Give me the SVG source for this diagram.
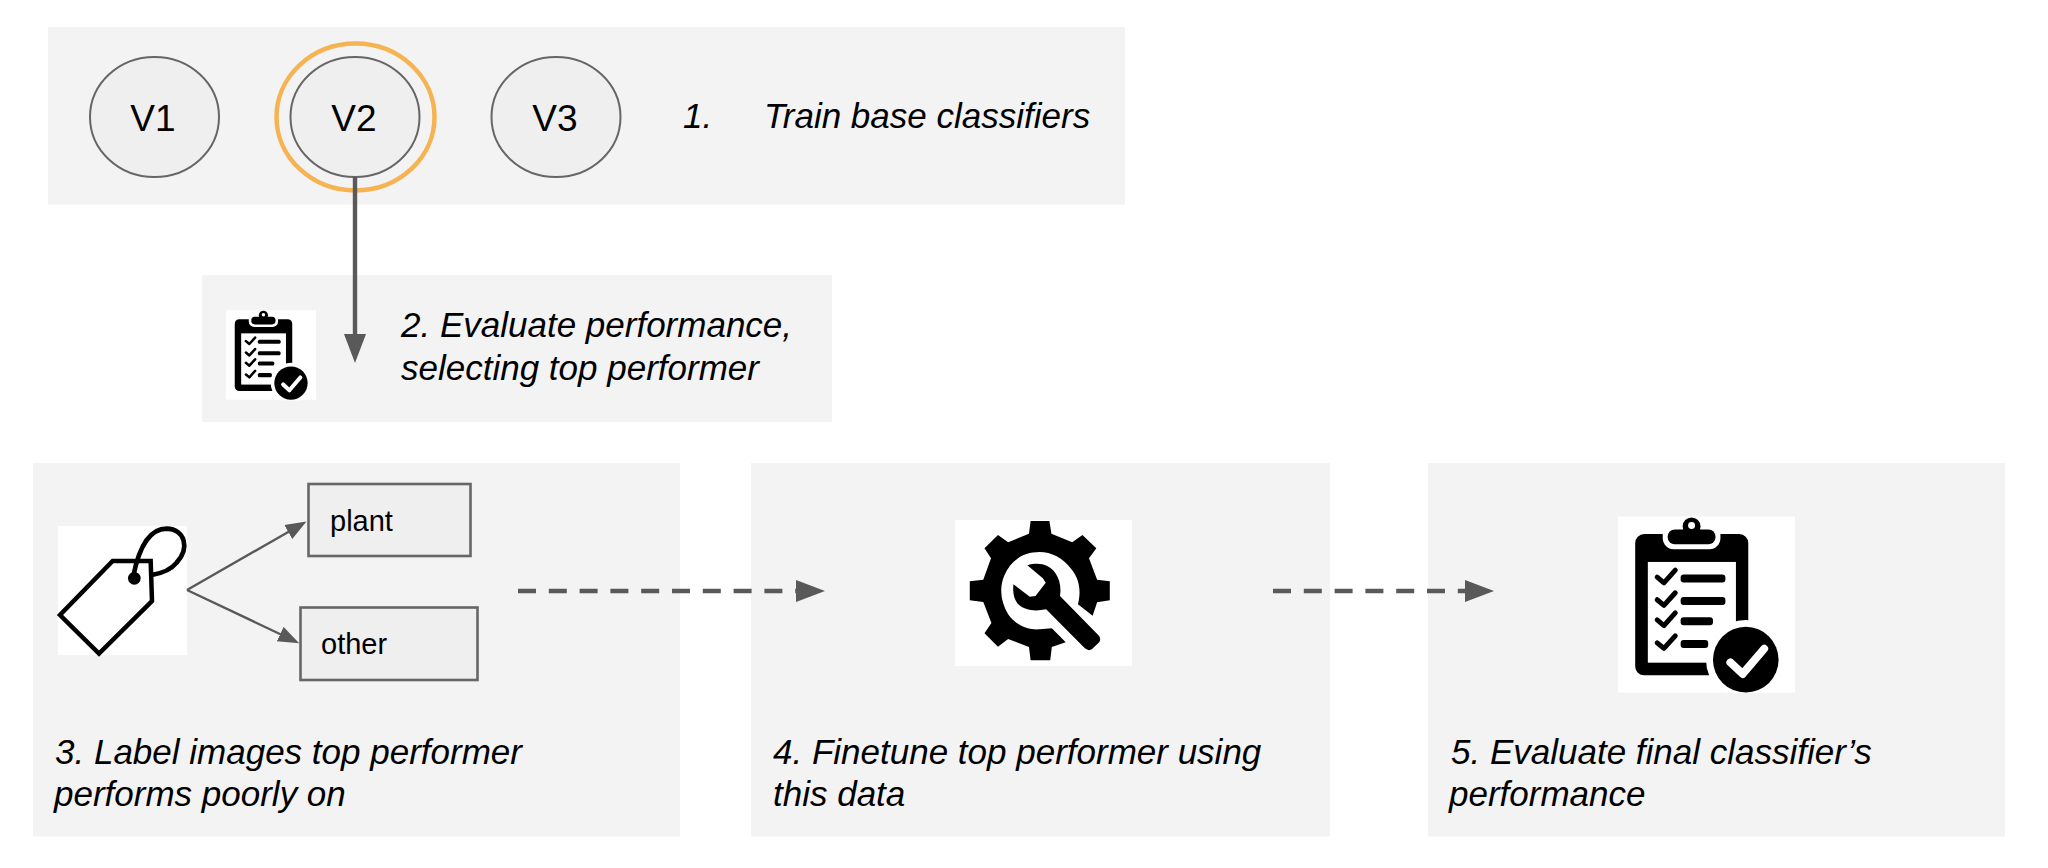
<svg xmlns="http://www.w3.org/2000/svg" width="2048" height="868" viewBox="0 0 2048 868">
<style>
text{font-family:"Liberation Sans",Arial,sans-serif;fill:#000}
.step{font-size:35px;font-style:italic}
.v{font-size:37px;text-anchor:middle}
.lab{font-size:29px}
.panel{fill:#f3f3f3}
.oval{fill:#efefef;stroke:#666;stroke-width:2}
.box{fill:#efefef;stroke:#666;stroke-width:2.6}
.thick{fill:none;stroke:#595959;stroke-width:4.4}
.thin{fill:none;stroke:#595959;stroke-width:2.4}
.dash{stroke-dasharray:18 12.8}
.paper{fill:#fff}
</style>
<defs>
<marker id="big" markerUnits="userSpaceOnUse" markerWidth="30" markerHeight="24" refX="2" refY="11.5" orient="auto"><path d="M0,0.5 L29,11.5 L0,22.5z" fill="#595959"/></marker>
<marker id="small" markerUnits="userSpaceOnUse" markerWidth="22" markerHeight="18" refX="2" refY="8.5" orient="auto"><path d="M0,0.5 L21,8.5 L0,16.5z" fill="#595959"/></marker>
<symbol id="clip" viewBox="0 0 178 177">
<rect width="178" height="177" fill="#fff"/>
<rect x="17.3" y="17.7" width="113.7" height="142" rx="9" fill="#000"/>
<rect x="30" y="45.7" width="88.6" height="101.3" fill="#fff"/>
<path d="M45,10H103V22a11,11 0 0 1-11,11H56a11,11 0 0 1-11-11z" fill="#fff"/>
<rect x="50" y="13" width="48" height="15" rx="7" fill="#000"/>
<circle cx="74" cy="10" r="9" fill="#000"/><circle cx="74" cy="9" r="3.5" fill="#fff"/>
<path d="M39.4,61l6.8,5.7L57.6,54M39.4,83.7l6.8,5.7L57.6,76.7M39.4,104l6.8,5.7L57.6,97M39.4,127l6.8,5.7L57.6,120" fill="none" stroke="#000" stroke-width="5" stroke-linecap="round" stroke-linejoin="round"/>
<rect x="63" y="58.3" width="45" height="8" rx="3" fill="#000"/>
<rect x="63" y="81" width="45" height="8" rx="3" fill="#000"/>
<rect x="63" y="101.3" width="32.5" height="8" rx="3" fill="#000"/>
<rect x="63" y="124.3" width="27.7" height="8" rx="3" fill="#000"/>
<circle cx="128.5" cy="144" r="40" fill="#fff"/>
<circle cx="128.5" cy="144" r="33" fill="#000"/>
<path d="M113,146.7l12.4,11.6L147,133" fill="none" stroke="#fff" stroke-width="8" stroke-linecap="round" stroke-linejoin="round"/>
</symbol>
</defs>
<g id="panels">
<rect class="panel" x="48" y="27" width="1077" height="177.5"/>
<rect class="panel" x="202" y="275" width="630" height="147"/>
<rect class="panel" x="33" y="463" width="647" height="373.5"/>
<rect class="panel" x="751" y="463" width="579" height="373.5"/>
<rect class="panel" x="1428" y="463" width="577" height="373.5"/>
</g>
<g id="v1"><ellipse class="oval" cx="154.5" cy="117" rx="64.5" ry="60"/><text class="v" x="153" y="131">V1</text></g>
<g id="v2"><ellipse cx="355.5" cy="117" rx="79" ry="73.5" fill="none" stroke="#f6b352" stroke-width="4.5"/><ellipse class="oval" cx="355" cy="117" rx="64.5" ry="60"/><text class="v" x="354" y="131">V2</text></g>
<g id="v3"><ellipse class="oval" cx="556" cy="117" rx="64.5" ry="60"/><text class="v" x="555" y="131">V3</text></g>
<g id="step1"><text class="step" x="683" y="128">1.</text><text class="step" x="764" y="128">Train base classifiers</text></g>
<g id="step2"><use href="#clip" x="226" y="309.5" width="90" height="91"/>
<text class="step" x="401" y="337">2. Evaluate performance,</text><text class="step" x="401" y="380">selecting top performer</text></g>
<g id="step3"><rect class="paper" x="58" y="526" width="129" height="129"/>
<g transform="translate(30 461) scale(.33333)"><path d="M248,300H362L366,420L207,578L90,462z" fill="none" stroke="#000" stroke-width="13.5" stroke-linejoin="miter"/><path d="M310,345C325,270 355,203 410,203C465,205 480,260 440,305C420,330 390,338 365,342" fill="none" stroke="#000" stroke-width="14"/><circle cx="313" cy="352" r="19" fill="#000"/></g>
<text class="step" x="55" y="764">3. Label images top performer</text><text class="step" x="54" y="806">performs poorly on</text></g>
<g id="plant"><rect class="box" x="308.5" y="484" width="162" height="72"/><text class="lab" x="330" y="531">plant</text></g>
<g id="other"><rect class="box" x="300.5" y="607.5" width="177" height="72.5"/><text class="lab" x="321" y="654">other</text></g>
<g id="step4"><rect class="paper" x="955" y="520" width="177" height="146"/>
<g transform="translate(500 501) scale(.40816 .33333)"><path d="M1300,60H1346L1351,98L1402,124L1427,102L1461,142L1443,172L1463,236L1494,241V298L1463,304L1452,344L1416,310C1424,270 1420,235 1400,205C1380,170 1350,153 1322,153C1280,153 1250,180 1235,225C1222,265 1228,305 1245,340C1262,372 1295,388 1322,385L1352,382L1386,424L1352,438L1348,478H1300L1296,438L1245,414L1220,437L1187,397L1204,366L1184,303L1151,298V241L1184,236L1203,172L1187,142L1220,102L1245,124L1296,98z" fill="#000"/>
<path d="M1292,193C1320,183 1345,190 1360,215C1372,235 1375,260 1372,285L1468,405Q1473,415 1468,424L1450,445Q1442,451 1433,442L1338,325C1310,332 1285,328 1270,310C1258,295 1256,270 1258,250L1298,287L1312,285L1337,245L1330,232z" fill="#000"/></g>
<text class="step" x="773" y="764">4. Finetune top performer using</text><text class="step" x="773" y="806">this data</text></g>
<g id="step5"><use href="#clip" x="1618" y="516" width="177" height="177"/>
<text class="step" x="1451" y="764">5. Evaluate final classifier’s</text><text class="step" x="1449" y="806">performance</text></g>
<g id="connectors">
<path class="thick" d="M355,177V336" marker-end="url(#big)"/>
<path class="thin" d="M187,590L290,531" marker-end="url(#small)"/>
<path class="thin" d="M187,590L282,635" marker-end="url(#small)"/>
<path class="thick dash" d="M518,591H798" marker-end="url(#big)"/>
<path class="thick dash" d="M1273,591H1467" marker-end="url(#big)"/>
</g>
</svg>
